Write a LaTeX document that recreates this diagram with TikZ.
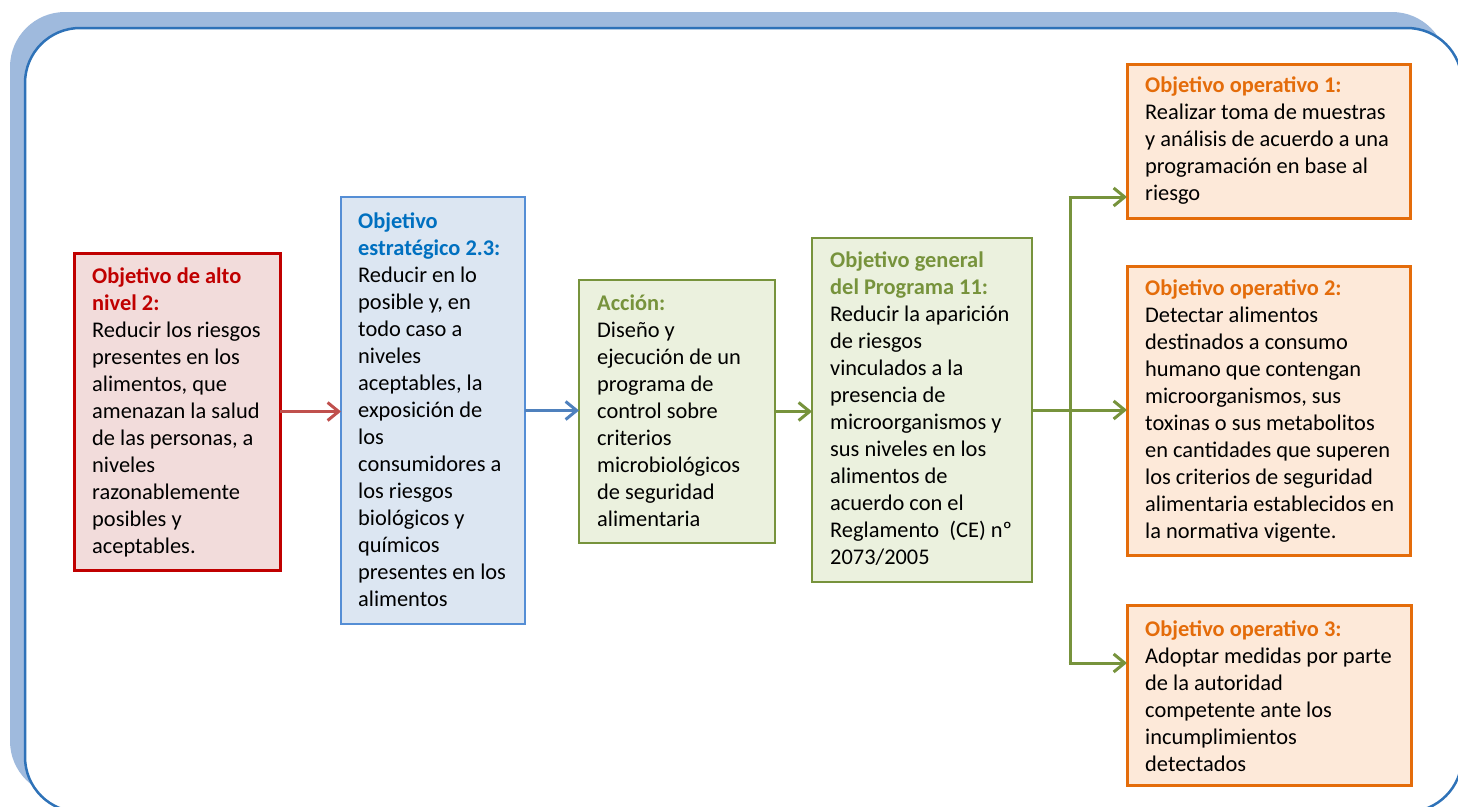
\documentclass[tikz,border=0pt]{standalone}
\usepackage{fontspec}
\setmainfont{Carlito}
\usetikzlibrary{arrows.meta}
\definecolor{shadowblue}{HTML}{9FBADD}
\definecolor{framecol}{HTML}{2E72B8}
\definecolor{redfill}{HTML}{F2DCDB}
\definecolor{redline}{HTML}{C00000}
\definecolor{redarrow}{HTML}{C0504D}
\definecolor{bluefill}{HTML}{DCE6F2}
\definecolor{blueline}{HTML}{558ED5}
\definecolor{bluetitle}{HTML}{0070C0}
\definecolor{bluearrow}{HTML}{4F81BD}
\definecolor{greenfill}{HTML}{EBF1DE}
\definecolor{greenline}{HTML}{77933C}
\definecolor{orangefill}{HTML}{FDE9D9}
\definecolor{orangeline}{HTML}{E46C0A}
\tikzset{
  boxbase/.style={rectangle, inner sep=0pt, outer sep=0pt},
  redbox/.style={boxbase, fill=redfill, draw=redline, line width=3pt},
  bluebox/.style={boxbase, fill=bluefill, draw=blueline, line width=2.5pt},
  greenbox/.style={boxbase, fill=greenfill, draw=greenline, line width=2.5pt},
  orangebox/.style={boxbase, fill=orangefill, draw=orangeline, line width=3pt},
  txt/.style={anchor=north west, inner sep=0pt, align=left, font=\fontsize{22.4}{27}\selectfont, text=black},
  conn/.style={line width=3pt, -{Straight Barb[length=11pt,width=18pt,line width=3pt]}},
  plainconn/.style={line width=3pt}
}
\begin{document}
\begin{tikzpicture}[x=1pt,y=-1pt]
\useasboundingbox (0,0) rectangle (1458,806);
\clip (0,0) rectangle (1458,806);
% background frame
\fill[shadowblue, rounded corners=55pt] (10,12) rectangle (1447,796);
\draw[framecol, line width=2.5pt, fill=white, rounded corners=55pt] (25,28) rectangle (1462,812);

% boxes
\node[redbox, minimum width=206pt, minimum height=317pt] (b1) at (177,411.5) {};
\node[bluebox, minimum width=184pt, minimum height=427pt] (b2) at (433,410.5) {};
\node[greenbox, minimum width=196pt, minimum height=263pt] (b3) at (677,411.5) {};
\node[greenbox, minimum width=220pt, minimum height=344pt] (b4) at (922,410) {};
\node[orangebox, minimum width=283pt, minimum height=154pt] (b5) at (1268.5,141) {};
\node[orangebox, minimum width=283pt, minimum height=289pt] (b6) at (1268.5,410.5) {};
\node[orangebox, minimum width=284pt, minimum height=180pt] (b7) at (1269,695) {};

% texts
\node[txt] (t1) at (92,264.1) {\strut\textcolor{redline}{\bfseries Objetivo de alto}\\
\textcolor{redline}{\bfseries nivel 2:}\\
Reducir los riesgos\\
presentes en los\\
alimentos, que\\
amenazan la salud\\
de las personas, a\\
niveles\\
razonablemente\\
posibles y\\
aceptables.};

\node[txt] (t2) at (358,209.1) {\strut\textcolor{bluetitle}{\bfseries Objetivo}\\
\textcolor{bluetitle}{\bfseries estratégico 2.3:}\\
Reducir en lo\\
posible y, en\\
todo caso a\\
niveles\\
aceptables, la\\
exposición de\\
los\\
consumidores a\\
los riesgos\\
biológicos y\\
químicos\\
presentes en los\\
alimentos};

\node[txt] (t3) at (597,291.1) {\strut\textcolor{greenline}{\bfseries Acción:}\\
Diseño y\\
ejecución de un\\
programa de\\
control sobre\\
criterios\\
microbiológicos\\
de seguridad\\
alimentaria};

\node[txt] (t4) at (830,248.1) {\strut\textcolor{greenline}{\bfseries Objetivo general}\\
\textcolor{greenline}{\bfseries del Programa 11:}\\
Reducir la aparición\\
de riesgos\\
vinculados a la\\
presencia de\\
microorganismos y\\
sus niveles en los\\
alimentos de\\
acuerdo con el\\
Reglamento\ \ (CE) nº\\
2073/2005};

\node[txt] (t5) at (1145,73.1) {\strut\textcolor{orangeline}{\bfseries Objetivo operativo 1:}\\
Realizar toma de muestras\\
y análisis de acuerdo a una\\
programación en base al\\
riesgo};

\node[txt] (t6) at (1145,276.1) {\strut\textcolor{orangeline}{\bfseries Objetivo operativo 2:}\\
Detectar alimentos\\
destinados a consumo\\
humano que contengan\\
microorganismos, sus\\
toxinas o sus metabolitos\\
en cantidades que superen\\
los criterios de seguridad\\
alimentaria establecidos en\\
la normativa vigente.};

\node[txt] (t7) at (1145,617.1) {\strut\textcolor{orangeline}{\bfseries Objetivo operativo 3:}\\
Adoptar medidas por parte\\
de la autoridad\\
competente ante los\\
incumplimientos\\
detectados};

% connectors
\draw[conn, redarrow] (b1.east) -- (b1.east -| b2.west);
\draw[conn, bluearrow] (b2.east) -- (b2.east -| b3.west);
\draw[conn, greenline] (b3.east) -- (b3.east -| b4.west);
\draw[conn, greenline] (b4.east) -- (b4.east -| b6.west);
\coordinate (j1) at (1070,197);
\coordinate (j3) at (1070,663);
\draw[plainconn, greenline] (j1) -- (j3);
\draw[conn, greenline] ([xshift=-1.5pt]j1) -- (j1 -| b5.west);
\draw[conn, greenline] ([xshift=-1.5pt]j3) -- (j3 -| b7.west);
\end{tikzpicture}
\end{document}
